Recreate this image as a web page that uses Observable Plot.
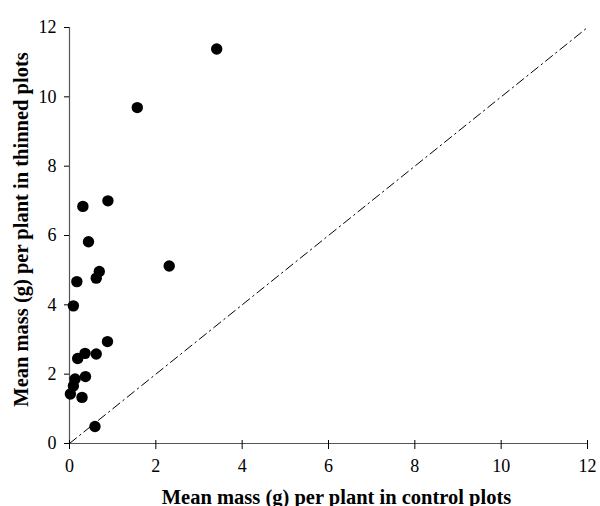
<!DOCTYPE html>
<html>
<head>
<meta charset="utf-8">
<script src="https://cdn.jsdelivr.net/npm/d3@7"></script>
<script src="https://cdn.jsdelivr.net/npm/@observablehq/plot@0.6"></script>
<style>
  html, body { margin: 0; padding: 0; background: #fff; }
  #chart svg { display: block; }
  #chart svg text { font-family: 'Liberation Serif', 'DejaVu Serif', serif; }
</style>
</head>
<body>
<div id="chart"></div>
<script>
// Mean mass per plant (g): control plots vs thinned plots
const controlMass = [3.41, 1.57, 0.31, 0.89, 0.44, 0.17, 0.62, 0.69, 2.31, 0.09,
                     0.88, 0.19, 0.36, 0.62, 0.37, 0.13, 0.09, 0.02, 0.29, 0.59];
const thinnedMass = [11.38, 9.69, 6.84, 7.00, 5.82, 4.67, 4.77, 4.96, 5.12, 3.97,
                     2.94, 2.45, 2.60, 2.58, 1.93, 1.86, 1.66, 1.43, 1.33, 0.49];
const tickValues = [0, 2, 4, 6, 8, 10, 12];
const xTitle = "Mean mass (g) per plant in control plots";
const yTitle = "Mean mass (g) per plant in thinned plots";

const points = controlMass.map((c, i) => ({control: c, thinned: thinnedMass[i]}));
const oneToOne = [{control: 0, thinned: 0}, {control: 12, thinned: 12}];

const serif = "'Liberation Serif', 'DejaVu Serif', serif";
const axisColor = "#555";

const chart = Plot.plot({
  width: 600,
  height: 506,
  marginLeft: 69,
  marginRight: 13,
  marginTop: 27,
  marginBottom: 63,
  style: {fontFamily: serif, fontSize: "18px", color: "#000", background: "#fff"},
  x: {domain: [0, 12]},
  y: {domain: [0, 12]},
  marks: [
    // 1:1 reference line
    Plot.line(oneToOne, {x: "control", y: "thinned", stroke: "#000", strokeWidth: 1,
      strokeDasharray: "9,4,1.5,4"}),
    // axis lines
    Plot.ruleY([0], {stroke: axisColor, strokeWidth: 1.2}),
    Plot.ruleX([0], {stroke: axisColor, strokeWidth: 1.2}),
    // x ticks crossing the axis line
    Plot.ruleX(tickValues, {x: d => d, y1: 0, y2: 0, insetTop: -3, insetBottom: -6,
      stroke: "#000", strokeWidth: 1}),
    Plot.axisX({ticks: tickValues, tickSize: 0, tickPadding: 16, label: null,
      fontSize: 18, fill: "#000"}),
    Plot.axisY({ticks: tickValues, tickSize: 5, tickPadding: 8, label: null,
      fontSize: 18, stroke: "#000", fill: "#000"}),
    Plot.dot(points, {x: "control", y: "thinned", r: 5.7, fill: "#000", stroke: null}),
    // axis titles
    Plot.text([xTitle], {frameAnchor: "bottom", dx: 8, dy: 60, text: d => d,
      fontWeight: "bold", fontSize: 20.5, fill: "#000", lineAnchor: "bottom"}),
    Plot.text([yTitle], {frameAnchor: "left", dx: -42, dy: -6, rotate: -90, text: d => d,
      textAnchor: "middle", fontWeight: "bold", fontSize: 20.5, fill: "#000",
      lineAnchor: "bottom"})
  ]
});
document.getElementById("chart").appendChild(chart);
</script>
</body>
</html>
